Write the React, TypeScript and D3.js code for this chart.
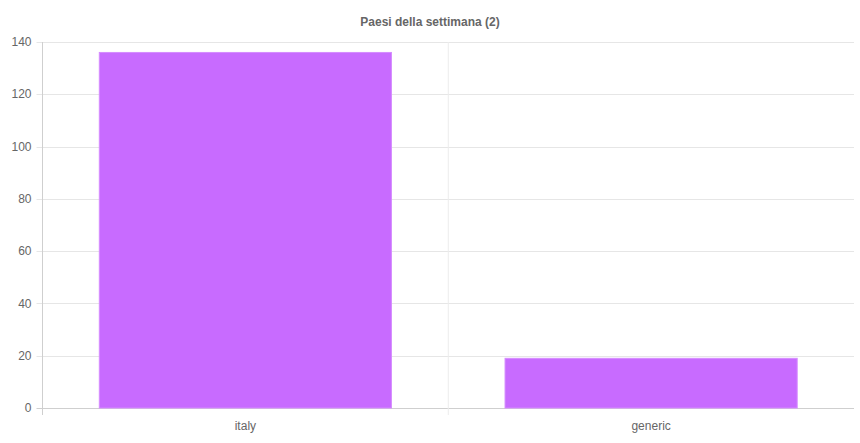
import { useRef, useEffect } from 'react';
import * as d3 from 'd3';

const categories = ['italy', 'generic'];
const values = [136, 19];
const yTicks = [0, 20, 40, 60, 80, 100, 120, 140];

const WIDTH = 860;
const HEIGHT = 443;
const MARGIN = { top: 42, right: 6, bottom: 35, left: 42.5 };
const FONT = '"Liberation Sans", Arial, Helvetica, sans-serif';

export default function App() {
  const svgRef = useRef<SVGSVGElement>(null);

  useEffect(() => {
    if (!svgRef.current) return;
    const svg = d3.select(svgRef.current);
    svg.selectAll('*').remove();

    const innerW = WIDTH - MARGIN.left - MARGIN.right;
    const innerH = HEIGHT - MARGIN.top - MARGIN.bottom;

    const x = d3.scaleBand<string>().domain(categories).range([0, innerW]).paddingInner(0).paddingOuter(0);
    const y = d3.scaleLinear().domain([0, 140]).range([innerH, 0]);
    const barW = x.bandwidth() * 0.72;

    const g = svg.append('g').attr('transform', `translate(${MARGIN.left},${MARGIN.top})`);

    // horizontal grid + tick marks
    g.selectAll('line.hgrid')
      .data(yTicks)
      .join('line')
      .attr('class', 'hgrid')
      .attr('x1', -6).attr('x2', innerW)
      .attr('y1', d => Math.round(y(d)) + 0.5).attr('y2', d => Math.round(y(d)) + 0.5)
      .attr('stroke', d => (d === 0 ? '#cfcfcf' : '#e6e6e6'))
      .attr('stroke-width', 1);

    // vertical grid (between categories) + left axis line
    const vLines = [0, ...categories.slice(1).map(c => x(c)!)];
    g.selectAll('line.vgrid')
      .data(vLines)
      .join('line')
      .attr('class', 'vgrid')
      .attr('x1', d => d).attr('x2', d => d)
      .attr('y1', 0).attr('y2', innerH + 7)
      .attr('stroke', (d, i) => (i === 0 ? '#cfcfcf' : '#ececec'))
      .attr('stroke-width', 1);

    // bars
    g.selectAll('rect.bar')
      .data(values)
      .join('rect')
      .attr('class', 'bar')
      .attr('x', (d, i) => x(categories[i])! + (x.bandwidth() - barW) / 2)
      .attr('y', d => y(d))
      .attr('width', barW)
      .attr('height', d => innerH - y(d))
      .attr('fill', '#c86bff')
      .attr('stroke', '#d58cff')
      .attr('stroke-width', 1);

    // y tick labels
    g.selectAll('text.ylab')
      .data(yTicks)
      .join('text')
      .attr('class', 'ylab')
      .attr('x', -11)
      .attr('y', d => y(d))
      .attr('dy', '0.35em')
      .attr('text-anchor', 'end')
      .attr('fill', '#666')
      .attr('font-size', '12px')
      .attr('font-family', FONT)
      .text(d => d);

    // x tick labels
    g.selectAll('text.xlab')
      .data(categories)
      .join('text')
      .attr('class', 'xlab')
      .attr('x', d => x(d)! + x.bandwidth() / 2)
      .attr('y', innerH + 22)
      .attr('text-anchor', 'middle')
      .attr('fill', '#666')
      .attr('font-size', '12px')
      .attr('font-family', FONT)
      .text(d => d);

    // title, centred on the whole canvas
    svg.append('text')
      .attr('x', WIDTH / 2)
      .attr('y', 26)
      .attr('text-anchor', 'middle')
      .attr('fill', '#666')
      .attr('font-size', '12px')
      .attr('font-weight', 'bold')
      .attr('font-family', FONT)
      .text('Paesi della settimana (2)');
  }, []);

  return (
    <svg
      ref={svgRef}
      width={WIDTH}
      height={HEIGHT}
      style={{ position: 'absolute', left: 0, top: 0, background: '#fff' }}
    />
  );
}
